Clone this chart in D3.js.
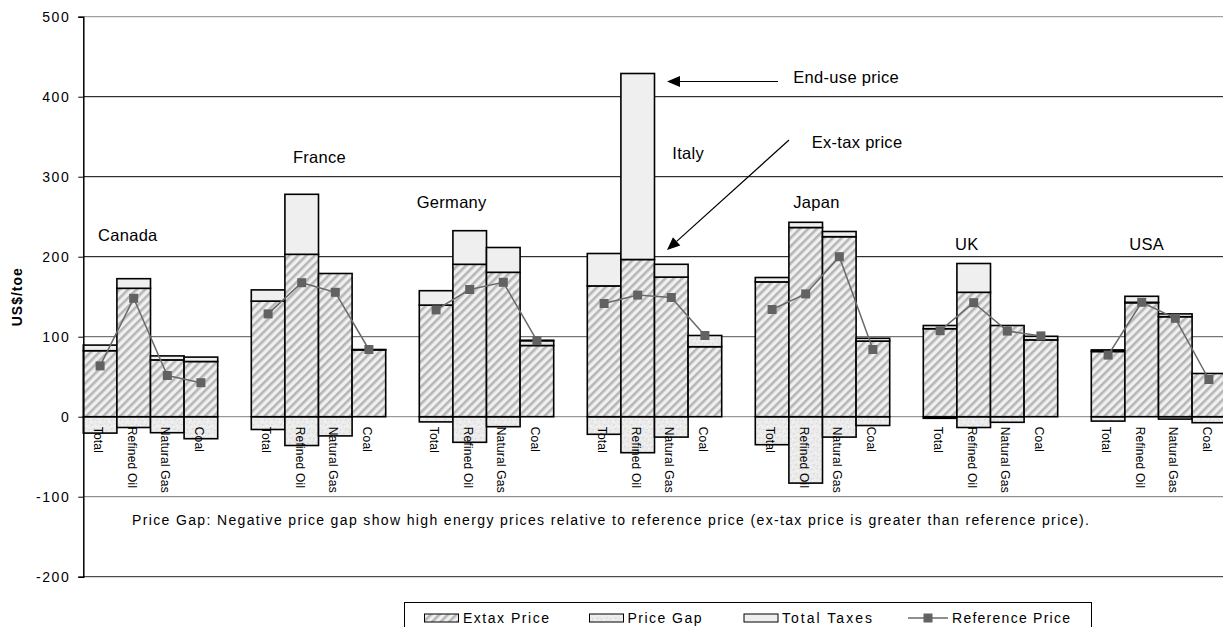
<!DOCTYPE html>
<html>
<head>
<meta charset="utf-8">
<script src="https://cdn.jsdelivr.net/npm/d3@7"></script>
<style>
  html, body { margin: 0; padding: 0; background: #fff; }
  svg { display: block; font-family: "Liberation Sans", Arial, Helvetica, sans-serif; }
</style>
</head>
<body>
<svg id="chart" width="1223" height="627"></svg>
<script>
// ---- Data (US$/toe) ----
const countries = ["Canada", "France", "Germany", "Italy", "Japan", "UK", "USA"];
const fuels = ["Total", "Refined Oil", "Natural Gas", "Coal"];

// one row per country, one value per fuel
const extaxPrice = [
  [82.5, 160.5, 71, 69],
  [144.5, 203, 179, 83.5],
  [139.5, 190.5, 180.5, 89],
  [163.5, 196.5, 174.5, 87.5],
  [168.5, 236.5, 225, 94.5],
  [110, 155.5, 114, 96],
  [81.5, 142.5, 125, 54]
];
const priceGap = [
  [-20.5, -13.5, -20, -27.5],
  [-16, -36, -24, 0.5],
  [-6.5, -32, -12.5, 6],
  [-22, -45, -25.5, 14],
  [-35, -83, -25.5, -11],
  [-2, -13.5, -7, 4.5],
  [-5.5, 0.5, -3, -7.5]
];
const totalTaxes = [
  [7, 12, 5, 5.5],
  [14, 75, 0, 0],
  [18, 42, 31, 0.5],
  [40.5, 232.5, 16, 0],
  [5.5, 6.5, 6.5, 3.5],
  [4, 36, 0, 0],
  [2, 7.5, 3.5, 0]
];
const referencePrice = [
  [63.5, 148, 51.5, 42.5],
  [128.5, 167.5, 155.5, 84],
  [133.5, 159, 168, 95],
  [141.5, 152, 149, 101.5],
  [134, 153.5, 200, 84],
  [107.5, 142.5, 107, 101],
  [77, 143, 123, 46.5]
];
const yTicks = [-200, -100, 0, 100, 200, 300, 400, 500];

const legendLabels = ["Extax Price", "Price Gap", "Total Taxes", "Reference Price"];
const noteText = "Price Gap: Negative price gap show high energy prices relative to reference price (ex-tax price is greater than reference price).";

// ---- Layout ----
const W = 1223, H = 627;
const axisX = 83.3;
const slotW = 33.6;
const svg = d3.select("#chart");

const y = d3.scaleLinear().domain([-200, 500]).range([576.7, 16.7]);

// four bars per country, an empty slot between neighbouring countries
const slots = [];
countries.forEach((c, i) => {
  fuels.forEach(f => slots.push(c + "|" + f));
  if (i < countries.length - 1) slots.push("sep" + i);
});
const x = d3.scaleBand()
  .domain(slots)
  .range([axisX, axisX + slots.length * slotW])
  .paddingInner(0).paddingOuter(0);
const bw = x.bandwidth();

const rows = [];
countries.forEach((c, i) => fuels.forEach((f, j) => rows.push({
  country: c, ci: i, fuel: f, key: c + "|" + f,
  extax: extaxPrice[i][j], gap: priceGap[i][j],
  taxes: totalTaxes[i][j], ref: referencePrice[i][j]
})));

// ---- Fill patterns ----
const defs = svg.append("defs");
const hatch = defs.append("pattern")
  .attr("id", "hatch").attr("patternUnits", "userSpaceOnUse")
  .attr("width", 6).attr("height", 6)
  .attr("patternTransform", "rotate(45)");
hatch.append("rect").attr("width", 6).attr("height", 6).attr("fill", "#f0f0f0");
hatch.append("rect").attr("width", 2.6).attr("height", 6).attr("fill", "#b6b6b6");

const speck = defs.append("pattern")
  .attr("id", "speck").attr("patternUnits", "userSpaceOnUse")
  .attr("width", 9).attr("height", 9);
speck.append("rect").attr("width", 9).attr("height", 9).attr("fill", "#ebebeb");
[[1, 1, "#dcdcdc"], [5, 2, "#f7f7f7"], [3, 5, "#d9d9d9"], [7, 6, "#dedede"],
 [0, 7, "#f5f5f5"], [6, 0, "#e0e0e0"], [2, 3, "#f8f8f8"], [8, 4, "#f4f4f4"]]
  .forEach(([px, py, col]) => speck.append("rect")
    .attr("x", px).attr("y", py).attr("width", 1.5).attr("height", 1.5).attr("fill", col));

// ---- Gridlines ----
const gridColor = { "-200": "#222", "-100": "#777", "0": "#808080", "100": "#555",
                    "200": "#000", "300": "#000", "400": "#000", "500": "#8a8a8a" };
svg.append("g").selectAll("line").data(yTicks).join("line")
  .attr("x1", axisX).attr("x2", W)
  .attr("y1", d => y(d)).attr("y2", d => y(d))
  .attr("stroke", d => gridColor[d]).attr("stroke-width", 1);

// ---- Bars ----
const bars = svg.append("g").attr("stroke", "#000").attr("stroke-width", 1.6);
rows.forEach(r => {
  const x0 = x(r.key);
  if (r.gap < 0) {
    bars.append("rect").attr("x", x0).attr("width", bw)
      .attr("y", y(0)).attr("height", y(r.gap) - y(0)).attr("fill", "url(#speck)");
  }
  bars.append("rect").attr("x", x0).attr("width", bw)
    .attr("y", y(r.extax)).attr("height", y(0) - y(r.extax)).attr("fill", "url(#hatch)");
  let base = r.extax;
  if (r.gap > 0) {
    bars.append("rect").attr("x", x0).attr("width", bw)
      .attr("y", y(base + r.gap)).attr("height", y(base) - y(base + r.gap)).attr("fill", "url(#speck)");
    base += r.gap;
  }
  if (r.taxes > 0) {
    bars.append("rect").attr("x", x0).attr("width", bw)
      .attr("y", y(base + r.taxes)).attr("height", y(base) - y(base + r.taxes)).attr("fill", "#efefef");
  }
});

// ---- Value axis ----
const yAxis = d3.axisLeft(y).tickValues(yTicks).tickSize(5).tickPadding(8).tickFormat(d => String(d));
const ag = svg.append("g").attr("transform", `translate(${axisX},0)`).call(yAxis);
ag.select(".domain").attr("stroke", "#000").attr("stroke-width", 1.5);
ag.selectAll(".tick line").attr("stroke", "#000");
ag.selectAll(".tick text")
  .attr("font-size", 14).attr("fill", "#000")
  .attr("font-family", "'Liberation Sans', Arial, sans-serif")
  .style("letter-spacing", "1.6px");

svg.append("text")
  .attr("transform", `translate(22,${y(150)}) rotate(-90)`)
  .attr("text-anchor", "middle")
  .attr("font-size", 14).attr("font-weight", "bold")
  .style("letter-spacing", "1px")
  .text("US$/toe");

// ---- Reference price lines and markers ----
const line = d3.line().x(d => x(d.key) + bw / 2).y(d => y(d.ref));
countries.forEach(c => {
  const pts = rows.filter(r => r.country === c);
  svg.append("path").datum(pts).attr("d", line)
    .attr("fill", "none").attr("stroke", "#6a6a6a").attr("stroke-width", 1.5);
});
svg.append("g").selectAll("rect").data(rows).join("rect")
  .attr("x", d => x(d.key) + bw / 2 - 4.5).attr("y", d => y(d.ref) - 4.5)
  .attr("width", 9).attr("height", 9).attr("fill", "#626262");

// ---- Category labels (rotated) ----
svg.append("g").selectAll("text").data(rows).join("text")
  .attr("transform", d => `translate(${x(d.key) + bw / 2 - 6},${y(0) + 10}) rotate(90)`)
  .attr("font-size", 12)
  .style("letter-spacing", "0.2px")
  .text(d => d.fuel);

// ---- Country names ----
const countryLabelPos = [[14.7, 227], [41.6, 324.6], [-2.6, 268.7], [85, 329],
                         [38, 268.7], [31.7, 216], [38, 216]];
svg.append("g").selectAll("text").data(countries).join("text")
  .attr("x", (d, i) => x(d + "|Total") + countryLabelPos[i][0])
  .attr("y", (d, i) => y(countryLabelPos[i][1]))
  .attr("dy", "0.35em")
  .attr("font-size", 16.5)
  .style("letter-spacing", "0.3px")
  .text(d => d);

// ---- Callouts ----
function arrow(x1, y1, x2, y2) {
  const a = Math.atan2(y2 - y1, x2 - x1), L = 13, hw = 5.5;
  const bx = x2 - L * Math.cos(a), by = y2 - L * Math.sin(a);
  svg.append("line").attr("x1", x1).attr("y1", y1).attr("x2", bx).attr("y2", by)
    .attr("stroke", "#000").attr("stroke-width", 1.2);
  svg.append("path")
    .attr("d", `M${x2},${y2}L${bx + hw * Math.sin(a)},${by - hw * Math.cos(a)}L${bx - hw * Math.sin(a)},${by + hw * Math.cos(a)}Z`)
    .attr("fill", "#000");
}
const italyOilRight = x("Italy|Refined Oil") + bw;
arrow(778, y(419), italyOilRight + 12.5, y(419));
arrow(789, y(345.8), italyOilRight + 12.5, y(208.3));
svg.append("text").attr("x", 793.3).attr("y", y(424.5)).attr("dy", "0.35em")
  .attr("font-size", 16.5).style("letter-spacing", "0.3px").text("End-use price");
svg.append("text").attr("x", 811.7).attr("y", y(343.6)).attr("dy", "0.35em")
  .attr("font-size", 16.5).style("letter-spacing", "0.3px").text("Ex-tax price");

// ---- Note ----
svg.append("text").attr("x", 132).attr("y", y(-129.5)).attr("dy", "0.35em")
  .attr("font-size", 14)
  .attr("textLength", 957).attr("lengthAdjust", "spacing")
  .text(noteText);

// ---- Legend ----
const lg = svg.append("g");
lg.append("rect").attr("x", 404.5).attr("y", 602.5).attr("width", 687).attr("height", 40)
  .attr("fill", "#fff").attr("stroke", "#000").attr("stroke-width", 1);
const ly = 618;
const swatches = [
  { x: 424.5, fill: "url(#hatch)", tx: 463, tl: 86 },
  { x: 589.5, fill: "url(#speck)", tx: 627.5, tl: 74 },
  { x: 744, fill: "#efefef", tx: 782, tl: 90 }
];
swatches.forEach((s, i) => {
  lg.append("rect").attr("x", s.x).attr("y", ly - 4).attr("width", 34).attr("height", 8)
    .attr("fill", s.fill).attr("stroke", "#000").attr("stroke-width", 1);
  lg.append("text").attr("x", s.tx).attr("y", ly).attr("dy", "0.35em")
    .attr("font-size", 14).attr("textLength", s.tl).attr("lengthAdjust", "spacing")
    .text(legendLabels[i]);
});
lg.append("line").attr("x1", 908).attr("x2", 948).attr("y1", ly).attr("y2", ly)
  .attr("stroke", "#6a6a6a").attr("stroke-width", 1.5);
lg.append("rect").attr("x", 923.5).attr("y", ly - 4.5).attr("width", 9).attr("height", 9)
  .attr("fill", "#626262");
lg.append("text").attr("x", 952).attr("y", ly).attr("dy", "0.35em")
  .attr("font-size", 14).attr("textLength", 118).attr("lengthAdjust", "spacing")
  .text(legendLabels[3]);
</script>
</body>
</html>
